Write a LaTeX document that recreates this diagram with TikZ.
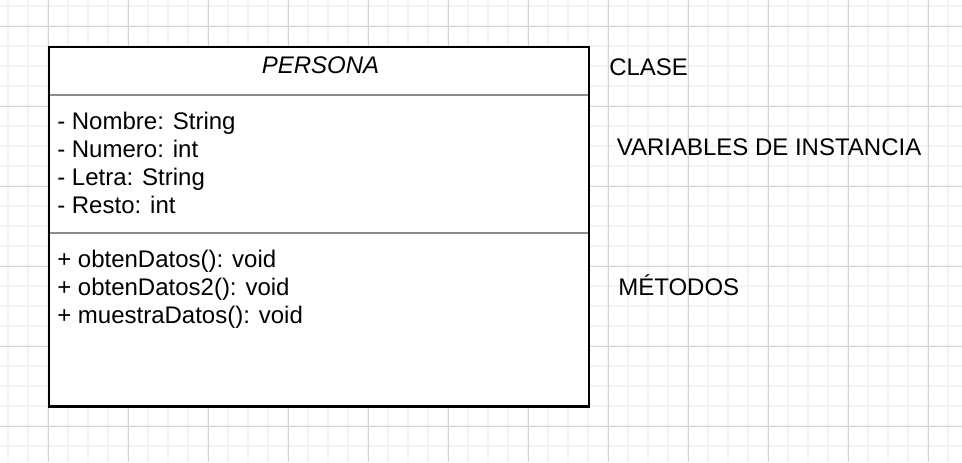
\documentclass[tikz,border=0pt]{standalone}
\usepackage{fontspec}
\setmainfont{Liberation Sans}
\definecolor{gridminor}{HTML}{F3F3F3}
\definecolor{gridmajor}{HTML}{D4D4D4}
\definecolor{divider}{HTML}{8C8C8C}
\begin{document}
\begin{tikzpicture}[x=0.75pt,y=-0.75pt,
        txt/.style={anchor=base west,inner sep=0pt,font=\fontsize{18}{21}\selectfont}]
        \useasboundingbox (0,0) rectangle (962,462);
        \fill[white] (0,0) rectangle (962,462);

        % fondo cuadriculado
        \foreach \x in {8,28,...,948} \draw[gridminor,line width=1pt] (\x,0) -- (\x,462);
        \foreach \y in {6,26,...,446} \draw[gridminor,line width=1pt] (0,\y) -- (962,\y);
        \foreach \x in {48,128,...,928} \draw[gridmajor,line width=0.75pt] (\x,0) -- (\x,462);
        \foreach \y in {26,106,...,426} \draw[gridmajor,line width=0.75pt] (0,\y) -- (962,\y);

        % clase
        \fill[white] (49,47) rectangle (589,406.5);
        \draw[divider,line width=1.1pt] (49,95) -- (589,95);
        \draw[divider,line width=1.1pt] (49,233) -- (589,233);
        \draw[line width=1.6pt] (49,47) rectangle (589,406.5);

        \node[txt,anchor=base,font=\fontsize{18}{21}\selectfont\itshape] (nombreclase) at (320.5,73) {PERSONA};

        \foreach \nom/\txt [count=\i] in {nombre/{- Nombre: String},numero/{- Numero: int},letra/{- Letra: String},resto/{- Resto: int}}
            \node[txt] (\nom) at (57,129.5+28*\i-28) {\txt};

        \foreach \nom/\txt [count=\i] in {obten/{+ obtenDatos(): void},obtendos/{+ obtenDatos2(): void},muestra/{+ muestraDatos(): void}}
            \node[txt] (\nom) at (57,267.7+28*\i-28) {\txt};

        % etiquetas
        \node[txt] (clase) at (609,75) {CLASE};
        \node[txt] (variables) at (616.5,155.5) {VARIABLES DE INSTANCIA};
        \node[txt] (metodos) at (618,295.5) {MÉTODOS};

    \end{tikzpicture}
\end{document}
